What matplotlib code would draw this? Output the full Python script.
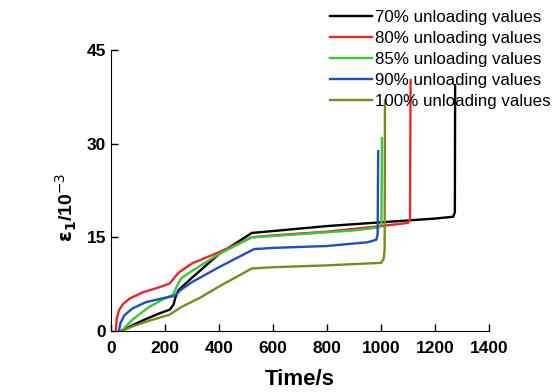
import matplotlib.pyplot as plt

plt.rcParams['font.family'] = ['Liberation Sans', 'DejaVu Sans']

# strain curves (time in s, strain in 10^-3)
t70 = [40, 80, 130, 180, 218, 232, 240, 250, 300, 400, 522, 600, 800, 1000, 1200, 1268, 1274, 1275]
e70 = [0, 0.9, 1.9, 2.8, 3.4, 4.2, 5.5, 6.5, 8.5, 12.3, 15.7, 16.0, 16.8, 17.4, 18.0, 18.3, 19.0, 39.4]

t80 = [18, 22, 30, 45, 70, 120, 180, 218, 250, 300, 350, 400, 522, 600, 800, 1000, 1100, 1108, 1110]
e80 = [0, 2.0, 3.3, 4.3, 5.2, 6.2, 7.0, 7.6, 9.3, 10.8, 11.7, 12.6, 15.0, 15.3, 15.9, 16.8, 17.3, 17.8, 40.2]

t85 = [40, 80, 140, 200, 230, 245, 260, 300, 400, 522, 600, 800, 900, 995, 1002, 1004]
e85 = [0, 1.8, 3.8, 5.2, 5.8, 7.2, 8.4, 9.6, 12.3, 15.0, 15.2, 15.8, 16.1, 16.6, 17.2, 30.9]

t90 = [30, 35, 50, 80, 130, 200, 235, 260, 300, 400, 530, 600, 800, 950, 983, 988, 990]
e90 = [0, 1.2, 2.5, 3.6, 4.6, 5.3, 5.6, 6.6, 7.8, 10.2, 13.1, 13.3, 13.6, 14.2, 14.6, 15.5, 28.8]

t100 = [40, 80, 140, 218, 260, 330, 400, 522, 600, 800, 1000, 1010, 1014, 1015]
e100 = [0, 0.7, 1.6, 2.6, 3.8, 5.3, 7.1, 10.0, 10.2, 10.5, 10.9, 11.5, 13.0, 37.0]

labels = ["70% unloading values", "80% unloading values", "85% unloading values",
          "90% unloading values", "100% unloading values"]
colors = ["#000000", "#e8262b", "#3cc43a", "#1f4fb8", "#7a8a1e"]

fig = plt.figure(figsize=(5.6, 3.92), dpi=100)
ax = fig.add_axes([0.198, 0.156, 0.675, 0.716])

for t, e, lab, c in zip([t70, t80, t85, t90, t100], [e70, e80, e85, e90, e100], labels, colors):
    ax.plot(t, e, color=c, lw=1.7, label=lab)

ax.set_xlim(0, 1400)
ax.set_ylim(0, 45)
ax.set_xticks([0, 200, 400, 600, 800, 1000, 1200, 1400])
ax.set_yticks([0, 15, 30, 45])
ax.spines['top'].set_visible(False)
ax.spines['right'].set_visible(False)
ax.tick_params(direction='in', length=5, width=1, labelsize=12.5)
ax.tick_params(axis='x', pad=7)
for lbl in ax.get_xticklabels() + ax.get_yticklabels():
    lbl.set_fontweight('bold')

ax.set_xlabel("Time/s", fontsize=16, fontweight='bold', labelpad=10)
ax.set_ylabel(r"$\mathbf{\varepsilon_1}$/10$^{-3}$", fontsize=14, fontweight='bold')
ax.yaxis.set_label_coords(-0.085, 0.44)

ax.legend(loc='upper left', bbox_to_anchor=(330 / 560, 1 - 10 / 392), bbox_transform=fig.transFigure,
          frameon=False, fontsize=12.2, handlelength=2.45, handletextpad=0.2,
          labelspacing=0.36, borderaxespad=0, borderpad=0)

fig.savefig("out.png", dpi=100)
